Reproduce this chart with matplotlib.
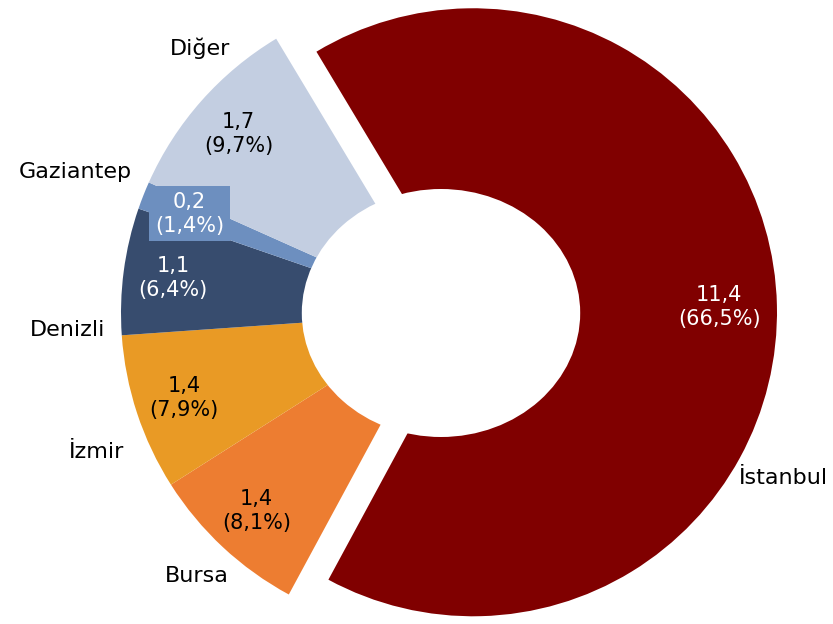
import numpy as np
import matplotlib.pyplot as plt
from matplotlib.patches import Ellipse

cities = ["İstanbul", "Bursa", "İzmir", "Denizli", "Gaziantep", "Diğer"]
values = [11.4, 1.4, 1.4, 1.1, 0.2, 1.7]
shares = [66.5, 8.1, 7.9, 6.4, 1.4, 9.7]

colors = ["#800000", "#ED7D31", "#E99A25", "#374C6E", "#6D8FBF", "#C3CEE1"]
text_colors = ["white", "black", "black", "white", "white", "black"]

# pixel -> data: x = (px - 441) / 320, y = (313 - py) / 320
name_pos = [(1.071, -0.516), (-0.763, -0.822), (-1.075, -0.434),
            (-1.166, -0.053), (-1.144, 0.441), (-0.753, 0.828)]


def fmt(v):
    return f"{v:.1f}".replace(".", ",")


fig = plt.figure(figsize=(8.33, 6.24), dpi=100)
ax = fig.add_axes([0, 0, 1, 1])

wedges, _ = ax.pie(
    shares,
    colors=colors,
    startangle=121,
    counterclock=False,
    explode=[0.1, 0, 0, 0, 0, 0],
    radius=1.0,
    wedgeprops=dict(linewidth=0),
)
wedges[0].set_radius(0.95)

# hole
ax.add_patch(Ellipse((0, 0), 0.87, 0.775, facecolor="white", edgecolor="none", zorder=3))

for i, w in enumerate(wedges):
    ang = np.deg2rad((w.theta1 + w.theta2) / 2)
    cx, cy = w.center
    r = 0.81 if i == 0 else 0.845
    x = cx + r * w.r * np.cos(ang)
    y = cy + r * w.r * np.sin(ang)
    label = f"{fmt(values[i])}\n({fmt(shares[i])}%)"
    kw = {}
    if cities[i] == "Gaziantep":
        kw["bbox"] = dict(facecolor=colors[i], edgecolor="none", pad=4)
    ax.text(x, y, label, ha="center", va="center", fontsize=15,
            color=text_colors[i], zorder=4, linespacing=1.25, **kw)
    ax.text(name_pos[i][0], name_pos[i][1], cities[i], ha="center", va="center",
            fontsize=16, color="black", zorder=4)

ax.set_xlim(-441 / 320, (833 - 441) / 320)
ax.set_ylim((313 - 624) / 320, 313 / 320)
ax.set_aspect("equal")
ax.axis("off")

plt.savefig("out.png", dpi=100)
plt.close()
